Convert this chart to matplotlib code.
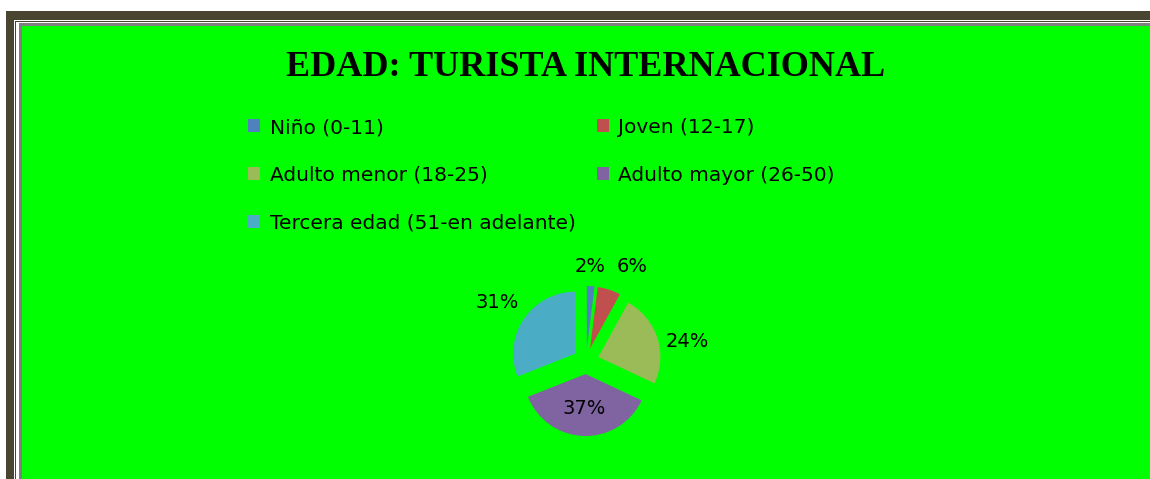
import numpy as np
import matplotlib
matplotlib.use('Agg')
from matplotlib import pyplot as plt
from matplotlib.patches import Rectangle

# data
categories = ['Niño (0-11)', 'Joven (12-17)', 'Adulto menor (18-25)',
              'Adulto mayor (26-50)', 'Tercera edad (51-en adelante)']
values = [2, 6, 24, 37, 31]
colors = ['#4F81BD', '#C0504D', '#9BBB59', '#8064A2', '#4BACC6']
title = 'EDAD: TURISTA INTERNACIONAL'

W, H = 1150, 479
fig = plt.figure(figsize=(W / 100, H / 100), dpi=100)
fig.patch.set_facecolor('white')


# frame rectangles given in pixels from the top-left corner
def frame(x0, y0, color):
    fig.patches.append(Rectangle((x0 / W, 0), 1 - x0 / W, (H - y0) / H,
                                 transform=fig.transFigure, color=color,
                                 zorder=-10, lw=0))


frame(6, 11, '#4A4530')
frame(14, 20, 'white')
frame(15, 21, '#4A4530')
frame(16, 22, 'white')
frame(19, 23, '#808080')
frame(22, 26, '#00FF00')

fig.text(586 / W, 1 - 67 / H, title, ha='center', va='center',
         fontsize=26, fontweight='bold', family='Liberation Serif')

# pie axes: centre at (586, 361) px, radius 62 px
cx, cy, rad = 586, 361, 62
aw, ah = 310, 248
ax = fig.add_axes([(cx - aw / 2) / W, (H - cy - ah / 2) / H, aw / W, ah / H])
ax.set_facecolor('none')
explode = [0.21] * len(values)
wedges, _ = ax.pie(values, colors=colors, startangle=90, counterclock=False,
                   explode=explode, radius=1, wedgeprops=dict(lw=0))
ax.set_xlim(-aw / 2 / rad, aw / 2 / rad)
ax.set_ylim(-ah / 2 / rad, ah / 2 / rad)
ax.set_aspect('equal', adjustable='box')
ax.axis('off')

# percentage labels placed around the wedge mid-angles
label_dist = [1.53, 1.70, 1.67, 0.76, 1.72]
angle_nudge = [1.2, -7.8, -7.4, -0.6, 0.7]
for w, v, d, n in zip(wedges, values, label_dist, angle_nudge):
    mid = np.deg2rad((w.theta1 + w.theta2) / 2 + n)
    ax.text(d * np.cos(mid), d * np.sin(mid), f'{v}%', ha='center',
            va='center', fontsize=14, color='black', family='DejaVu Sans')

# legend, row-major order in two columns
order = [0, 2, 4, 1, 3]
leg = fig.legend([wedges[i] for i in order], [categories[i] for i in order],
                 ncol=2, loc='upper left', bbox_to_anchor=(248 / W, 1 - 118 / H),
                 frameon=False, fontsize=14.5, handlelength=0.62, handleheight=0.62,
                 handletextpad=0.45, labelspacing=1.42, columnspacing=1.05,
                 borderpad=0, borderaxespad=0)

fig.savefig('out.png', dpi=100)
